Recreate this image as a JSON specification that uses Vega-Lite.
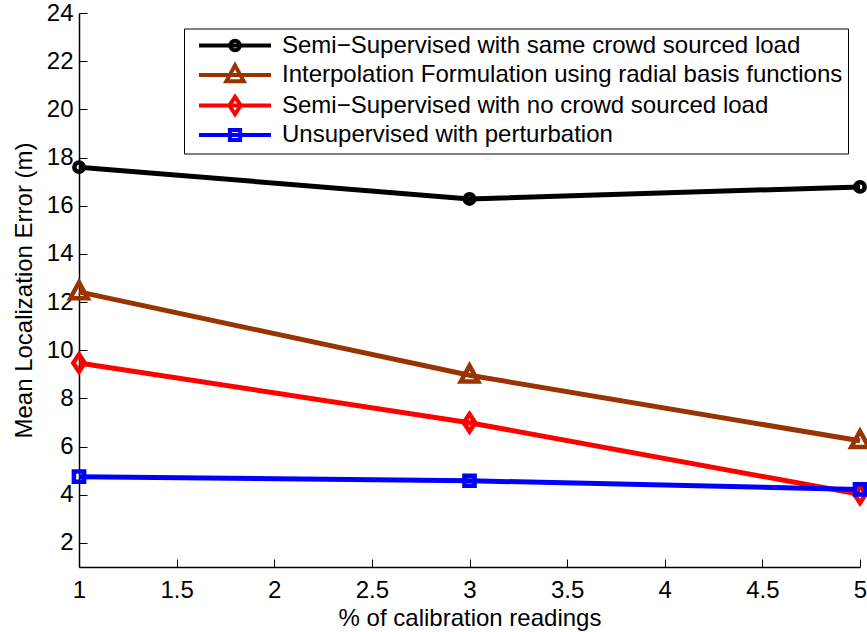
{
  "$schema": "https://vega.github.io/schema/vega-lite/v6.json",
  "width": 781,
  "height": 554,
  "autosize": {"type": "none"},
  "padding": {"left": 79, "top": 13, "right": 7, "bottom": 65},
  "background": "white",
  "config": {
    "font": "Liberation Sans",
    "view": {"stroke": null},
    "axis": {
      "grid": false,
      "domainColor": "black",
      "domainWidth": 1.5,
      "tickColor": "black",
      "tickWidth": 1,
      "tickSize": -8,
      "labelFont": "Liberation Sans",
      "labelFontSize": 24,
      "labelColor": "black",
      "titleFont": "Liberation Sans",
      "titleFontSize": 24,
      "titleFontWeight": "normal",
      "titleColor": "black"
    },
    "legend": {
      "labelFont": "Liberation Sans",
      "labelFontSize": 24,
      "labelColor": "black",
      "labelLimit": 0
    }
  },
  "data": {
    "values": [
      {"series": "Semi−Supervised with same crowd sourced load", "x": 1, "y": 17.6},
      {"series": "Semi−Supervised with same crowd sourced load", "x": 3, "y": 16.28},
      {"series": "Semi−Supervised with same crowd sourced load", "x": 5, "y": 16.78},
      {"series": "Interpolation Formulation using radial basis functions", "x": 1, "y": 12.42},
      {"series": "Interpolation Formulation using radial basis functions", "x": 3, "y": 8.96},
      {"series": "Interpolation Formulation using radial basis functions", "x": 5, "y": 6.24},
      {"series": "Semi−Supervised with no crowd sourced load", "x": 1, "y": 9.47},
      {"series": "Semi−Supervised with no crowd sourced load", "x": 3, "y": 6.99},
      {"series": "Semi−Supervised with no crowd sourced load", "x": 5, "y": 4.02},
      {"series": "Unsupervised with perturbation", "x": 1, "y": 4.75},
      {"series": "Unsupervised with perturbation", "x": 3, "y": 4.58},
      {"series": "Unsupervised with perturbation", "x": 5, "y": 4.22}
    ]
  },
  "encoding": {
    "x": {
      "field": "x", "type": "quantitative",
      "scale": {"domain": [1, 5], "nice": false, "zero": false},
      "axis": {"values": [1, 1.5, 2, 2.5, 3, 3.5, 4, 4.5, 5], "format": "~g", "title": "% of calibration readings", "labelPadding": 19, "titlePadding": 4, "labelFlush": false}
    },
    "y": {
      "field": "y", "type": "quantitative",
      "scale": {"domain": [1, 24], "nice": false, "zero": false},
      "axis": {"values": [2, 4, 6, 8, 10, 12, 14, 16, 18, 20, 22, 24], "format": "d", "title": "Mean Localization Error (m)", "labelPadding": 14, "titlePadding": 10}
    }
  },
  "layer": [
    {
      "mark": {"type": "line", "strokeWidth": 5, "clip": false},
      "encoding": {
        "color": {
          "field": "series", "type": "nominal",
          "scale": {
            "domain": ["Semi−Supervised with same crowd sourced load", "Interpolation Formulation using radial basis functions", "Semi−Supervised with no crowd sourced load", "Unsupervised with perturbation"],
            "range": ["#000000", "#993300", "#ff0000", "#0000ff"]
          },
          "legend": null
        }
      }
    },
    {
      "mark": {"type": "point", "filled": false, "size": 144, "strokeWidth": 4.5, "opacity": 1},
      "encoding": {
        "color": {
          "field": "series", "type": "nominal",
          "scale": {
            "domain": ["Semi−Supervised with same crowd sourced load", "Interpolation Formulation using radial basis functions", "Semi−Supervised with no crowd sourced load", "Unsupervised with perturbation"],
            "range": ["#000000", "#993300", "#ff0000", "#0000ff"]
          },
          "legend": null
        },
        "shape": {
          "field": "series", "type": "nominal",
          "scale": {
            "domain": ["Semi−Supervised with same crowd sourced load", "Interpolation Formulation using radial basis functions", "Semi−Supervised with no crowd sourced load", "Unsupervised with perturbation"],
            "range": [
              "M0.78,0 A0.78,0.78 0 1 1 -0.78,0 A0.78,0.78 0 1 1 0.78,0 Z",
              "M0,-1.6 L1.45,1.05 L-1.45,1.05 Z",
              "M0,-1.45 L0.95,0 L0,1.45 L-0.95,0 Z",
              "M-0.85,-0.85 L0.85,-0.85 L0.85,0.85 L-0.85,0.85 Z"
            ]
          },
          "legend": null
        }
      }
    },
    {
      "mark": {"type": "point", "filled": false, "size": 144, "strokeWidth": 4, "opacity": 0},
      "encoding": {
        "color": {
          "field": "series", "type": "nominal",
          "scale": {
            "domain": ["Semi−Supervised with same crowd sourced load", "Interpolation Formulation using radial basis functions", "Semi−Supervised with no crowd sourced load", "Unsupervised with perturbation"],
            "range": ["#000000", "#993300", "#ff0000", "#0000ff"]
          },
          "legend": {
            "title": null,
            "orient": "none",
            "legendX": 105,
            "legendY": 15.5,
            "padding": 5,
            "strokeColor": "black",
            "fillColor": "white",
            "symbolOpacity": 1,
            "symbolStrokeWidth": 4,
            "symbolSize": 144,
            "labelOffset": 69,
            "rowPadding": -1.5
          }
        },
        "shape": {
          "field": "series", "type": "nominal",
          "scale": {
            "domain": ["Semi−Supervised with same crowd sourced load", "Interpolation Formulation using radial basis functions", "Semi−Supervised with no crowd sourced load", "Unsupervised with perturbation"],
            "range": [
              "M-0.33,0 L11.67,0 M6.47,0 A0.8,0.8 0 1 1 4.87,0 A0.8,0.8 0 1 1 6.47,0",
              "M-0.33,0 L11.67,0 M5.67,-1.6 L7.12,1.05 L4.22,1.05 Z",
              "M-0.33,0 L11.67,0 M5.67,-1.45 L6.62,0 L5.67,1.45 L4.72,0 Z",
              "M-0.33,0 L11.67,0 M4.82,-0.85 L6.52,-0.85 L6.52,0.85 L4.82,0.85 Z"
            ]
          },
          "legend": {
            "title": null,
            "orient": "none",
            "legendX": 105,
            "legendY": 15.5,
            "padding": 5,
            "strokeColor": "black",
            "fillColor": "white",
            "symbolOpacity": 1,
            "symbolStrokeWidth": 4,
            "symbolSize": 144,
            "labelOffset": 69,
            "rowPadding": -1.5
          }
        }
      }
    }
  ],
  "resolve": {
    "scale": {"color": "independent", "shape": "independent"},
    "legend": {"color": "independent", "shape": "independent"}
  }
}
